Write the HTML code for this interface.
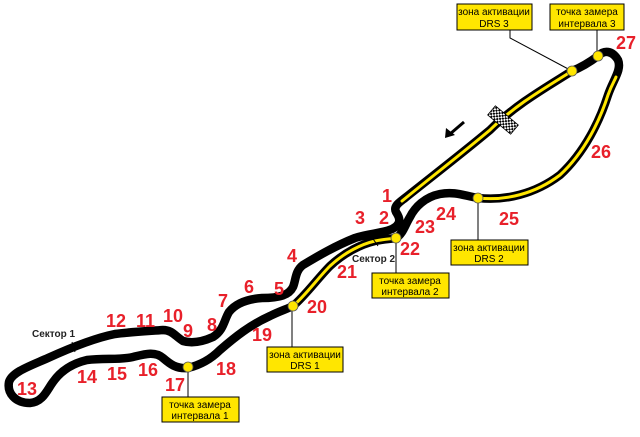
<!DOCTYPE html>
<html><head><meta charset="utf-8"><style>
html,body{margin:0;padding:0;background:#fff;}
svg{display:block;}
.n{font-family:"Liberation Sans",sans-serif;font-weight:bold;font-size:18px;fill:#e8202a;}
.s{font-family:"Liberation Sans",sans-serif;font-weight:bold;font-size:10px;fill:#222;}
.b{font-family:"Liberation Sans",sans-serif;font-size:10px;fill:#000;text-anchor:middle;}
</style></head><body>
<svg width="640" height="437" viewBox="0 0 640 437" xmlns="http://www.w3.org/2000/svg">
<defs>
<pattern id="chk" width="4" height="4" patternUnits="userSpaceOnUse">
<rect width="4" height="4" fill="#fff"/><rect width="2" height="2" fill="#000"/><rect x="2" y="2" width="2" height="2" fill="#000"/>
</pattern>
</defs>
<g fill="none" stroke-linecap="round" stroke-linejoin="round">
<path stroke="#000" stroke-width="8.5" d="M405,198 C400,202 393,206 396,212 C400,218 402,224 392,229 C380,234 370,233 355,238 C335,246 318,256 303,265 C295,271 296,280 293,287 C289,295 280,298 262,298 C248,299 236,303 229,312 C224,320 224,330 213,337 C204,341 193,344 183,341 C175,336 172,330 163,330 C150,331 130,332 115,334 C95,338 70,348 48,358 C30,366 12,372 9,382 C7,393 15,403 30,403 C43,402 47,390 53,382 C60,372 70,364 87,360 C105,358 120,360 133,357 C145,354 155,351 163,358 C170,364 176,369 188,368 C200,365 210,360 220,350 C235,337 250,325 270,316 C280,311 287,309 293,306 C305,296 318,278 330,266 C345,252 362,244 375,241 C385,239 390,239 396,238 C403,234 405,225 410,217 C415,207 425,197 440,194 C455,191 465,196 478,198 C505,201 535,194 560,175 C585,152 600,120 608,95 C613,80 622,70 618,60 C612,50 604,50 598,56 C590,62 582,67 572,71 C545,88 515,105 490,130 C460,155 430,178 405,198"/>
<path stroke="#ffe600" stroke-width="3" d="M572,71 C545,88 515,105 490,130 C460,155 430,178 402,201"/>
<path stroke="#ffe600" stroke-width="3" d="M293,306 C305,296 318,278 330,266 C345,252 362,244 375,241 C385,239 390,239 396,238"/>
<path stroke="#ffe600" stroke-width="3" d="M478,198 C505,201 535,194 560,175 C585,152 600,120 608,95 C612,84 615,80 616,77"/>
</g>
<line x1="72" y1="342" x2="75" y2="352" stroke="#000" stroke-width="1"/>
<line x1="371" y1="236" x2="378" y2="246" stroke="#000" stroke-width="1"/>
<g transform="translate(503,120) rotate(40)">
<rect x="-15" y="-6" width="30" height="12" fill="url(#chk)" stroke="#000" stroke-width="0.8"/>
</g>
<line x1="464" y1="122" x2="450" y2="134" stroke="#000" stroke-width="3"/>
<path d="M445,138 L446,128 L455,135 Z" fill="#000"/>
<g stroke="#000" stroke-width="1" fill="none">
<polyline points="510,30 510,38 572,71"/>
<line x1="597" y1="30" x2="597" y2="55"/>
<line x1="478" y1="198" x2="478" y2="240"/>
<line x1="396" y1="238" x2="396" y2="273"/>
<line x1="292" y1="306" x2="292" y2="347"/>
<line x1="188" y1="367" x2="188" y2="397"/>
</g>
<g fill="#ffe600" stroke="#555" stroke-width="0.8">
<circle cx="598" cy="56" r="5"/><circle cx="572" cy="71" r="5"/>
<circle cx="478" cy="198" r="5"/><circle cx="396" cy="238" r="5"/>
<circle cx="293" cy="306" r="5"/><circle cx="188" cy="367" r="5"/>
</g>
<g fill="#ffe600" stroke="#000" stroke-width="1">
<rect x="457" y="4" width="75" height="26"/>
<rect x="550" y="4" width="74" height="26"/>
<rect x="451" y="240" width="77" height="25"/>
<rect x="372" y="273" width="77" height="25"/>
<rect x="267" y="347" width="76" height="25"/>
<rect x="162" y="397" width="77" height="25"/>
</g>
<g class="b">
<text x="494" y="15">зона активации</text><text x="494" y="27">DRS 3</text>
<text x="587" y="15">точка замера</text><text x="587" y="27">интервала 3</text>
<text x="489" y="251">зона активации</text><text x="489" y="262">DRS 2</text>
<text x="410" y="284">точка замера</text><text x="410" y="295">интервала 2</text>
<text x="305" y="358">зона активации</text><text x="305" y="369">DRS 1</text>
<text x="200" y="408">точка замера</text><text x="200" y="419">интервала 1</text>
</g>
<text class="s" x="32" y="337">Сектор 1</text>
<text class="s" x="352" y="262">Сектор 2</text>
<g class="n">
<text x="382" y="202">1</text><text x="379" y="224">2</text><text x="355" y="224">3</text>
<text x="287" y="262">4</text><text x="274" y="295">5</text><text x="244" y="293">6</text>
<text x="218" y="307">7</text><text x="207" y="331">8</text><text x="183" y="337">9</text>
<text x="163" y="322">10</text><text x="136" y="327">11</text><text x="106" y="327">12</text>
<text x="17" y="395">13</text><text x="77" y="383">14</text><text x="107" y="380">15</text>
<text x="138" y="376">16</text><text x="165" y="391">17</text><text x="216" y="375">18</text>
<text x="252" y="341">19</text><text x="307" y="313">20</text><text x="337" y="278">21</text>
<text x="400" y="255">22</text><text x="415" y="233">23</text><text x="436" y="220">24</text>
<text x="499" y="225">25</text><text x="591" y="158">26</text><text x="616" y="49">27</text>
</g>
</svg>
</body></html>
